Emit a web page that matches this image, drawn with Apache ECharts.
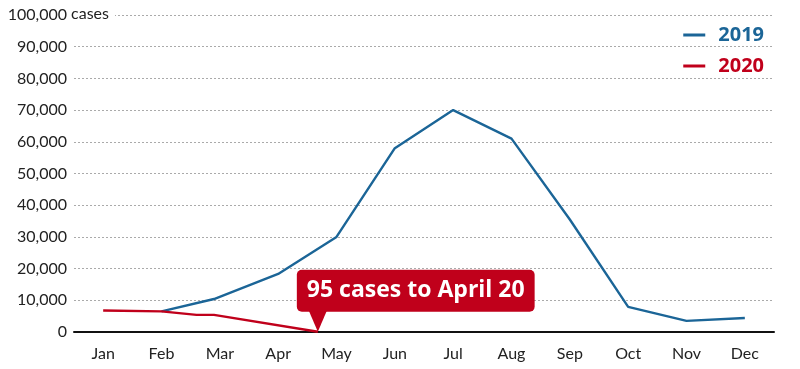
<!DOCTYPE html>
<html><head><meta charset="utf-8">
<script src="https://cdn.jsdelivr.net/npm/echarts@6/dist/echarts.min.js"></script>
<style>html,body{margin:0;padding:0;background:#fff}#c{width:800px;height:369px}</style>
</head><body><div id="c"></div>
<script>
const months = ['Jan','Feb','Mar','Apr','May','Jun','Jul','Aug','Sep','Oct','Nov','Dec'];
// positions on month scale (0 = Jan)
const x2019 = [1, 1.9, 3, 4, 5, 6, 7, 8, 9, 10, 11];
const y2019 = [6500, 10400, 18300, 30000, 58000, 70000, 61000, 35500, 7900, 3500, 4400];
const x2020 = [0, 1, 1.6, 1.9, 3.68];
const y2020 = [6800, 6500, 5400, 5400, 95];
const yTicks = [0, 10000, 20000, 30000, 40000, 50000, 60000, 70000, 80000, 90000, 100000];
const calloutText = '95 cases to April 20';

const BLUE = '#1b6597', RED = '#c0001b';
const pair = (xs, ys) => xs.map((x, i) => [x, ys[i]]);
const d2020 = pair(x2020, y2020);
const last = d2020[d2020.length - 1];

const chart = echarts.init(document.getElementById('c'));
chart.setOption({
  animation: false,
  textStyle: { fontFamily: 'Lato' },
  grid: { left: 74, right: 26, top: 15, bottom: 37 },
  legend: {
    orient: 'vertical', right: 31, top: 20, itemGap: 11,
    icon: 'rect', itemWidth: 22, itemHeight: 3,
    textStyle: { fontSize: 20, fontWeight: 'bold', fontFamily: 'Open Sans', padding: [0, 0, 0, 8] },
    data: [
      { name: '2019', textStyle: { color: BLUE } },
      { name: '2020', textStyle: { color: RED } }
    ]
  },
  xAxis: [
    {
      type: 'category', data: months, boundaryGap: true,
      axisLine: { lineStyle: { color: '#111', width: 2 } },
      axisTick: { alignWithLabel: true, length: 7, lineStyle: { color: '#111', width: 2 } },
      axisLabel: { color: '#222', fontSize: 16, margin: 14 }
    },
    { type: 'value', min: -0.5, max: 11.5, show: false }
  ],
  yAxis: {
    type: 'value', min: 0, max: 100000, interval: 10000,
    axisLine: { show: false }, axisTick: { show: false },
    splitLine: { lineStyle: { color: '#aaa', type: [2, 2], width: 1 } },
    axisLabel: {
      color: '#222', fontSize: 16, margin: 7,
      formatter: v => yTicks.includes(v) ? v.toLocaleString('en-US') : ''
    }
  },
  graphic: [{
    type: 'text', left: 67, top: 6, z: 10,
    style: { text: ' cases', font: '16px Lato', fill: '#222', backgroundColor: '#fff', padding: [0, 6, 0, 0] }
  }],
  series: [
    {
      name: '2019', type: 'line', xAxisIndex: 1, data: pair(x2019, y2019),
      showSymbol: false, lineStyle: { color: BLUE, width: 2.4 }, itemStyle: { color: BLUE }, z: 3
    },
    {
      name: '2020', type: 'line', xAxisIndex: 1, data: d2020,
      showSymbol: false, lineStyle: { color: RED, width: 2.4 }, itemStyle: { color: RED }, z: 4,
      markPoint: {
        silent: true,
        data: [{
          coord: last, symbol: 'triangle', symbolRotate: 180, symbolSize: [18, 21],
          symbolOffset: [0, '-50%'], itemStyle: { color: RED },
          label: {
            show: true, formatter: calloutText, position: [-12, -41],
            align: 'left', verticalAlign: 'top',
            color: '#fff', fontSize: 23, fontWeight: 'bold', fontFamily: 'Open Sans',
            backgroundColor: RED, borderRadius: 5, padding: [4, 10, 5, 10], lineHeight: 33
          }
        }]
      }
    }
  ]
});
</script></body></html>
